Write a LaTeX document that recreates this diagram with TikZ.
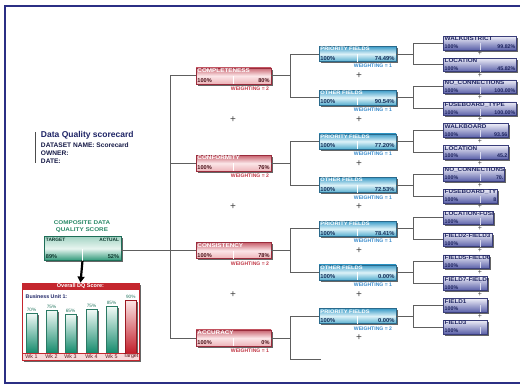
\documentclass[tikz,border=0pt]{standalone}
\usepackage{fontspec}
\setmainfont{Liberation Sans}
\newfontfamily\wide[FakeStretch=1.15]{Liberation Sans}
\usetikzlibrary{shadows,arrows.meta}
\definecolor{navy}{HTML}{2B2F84}
\definecolor{titlec}{HTML}{1F2566}
\definecolor{connc}{HTML}{5E5E5E}
\definecolor{Lonetop}{HTML}{C8626E}
\definecolor{Lonemid}{HTML}{FBE6E8}
\definecolor{Lonebot}{HTML}{EDB4B9}
\definecolor{Loneline}{HTML}{9A2C3C}
\definecolor{Loneval}{HTML}{4A1018}
\definecolor{Lonew}{HTML}{C23A48}
\definecolor{Ltwotop}{HTML}{3C9CC8}
\definecolor{Ltwomid}{HTML}{DDF2F8}
\definecolor{Ltwobot}{HTML}{56AECF}
\definecolor{Ltwoline}{HTML}{2A6A8C}
\definecolor{Ltwoval}{HTML}{14305A}
\definecolor{Ltwow}{HTML}{3A8CCC}
\definecolor{Lthrtop}{HTML}{EEEEF8}
\definecolor{Lthrbot}{HTML}{5C62AA}
\definecolor{Lthrline}{HTML}{3A3E7A}
\definecolor{Lthrtext}{HTML}{1E2460}
\definecolor{Lthrdiv}{HTML}{D8DAF0}
\definecolor{Ctop}{HTML}{A5D5C5}
\definecolor{Cmid}{HTML}{E8F5F0}
\definecolor{Cbot}{HTML}{2E9878}
\definecolor{Cline}{HTML}{1E6E58}
\definecolor{Ctext}{HTML}{2A8A68}
\definecolor{Cdark}{HTML}{0F3A30}
\definecolor{chartred}{HTML}{C4262E}
\definecolor{bartop}{HTML}{F4FBF8}
\definecolor{barbot}{HTML}{148A6C}
\definecolor{barline}{HTML}{2A7A64}
\definecolor{redtop}{HTML}{FBE6E6}
\definecolor{redbot}{HTML}{C21E2A}
\definecolor{wkband}{HTML}{F7DADA}
\definecolor{wktext}{HTML}{5A1015}
\tikzset{
  shad/.style={drop shadow={shadow xshift=1.8pt,shadow yshift=-1.8pt,fill=black!60,opacity=1}},
  conn/.style={draw=connc, line width=0.8pt},
  lonebox/.style={shad, draw=Loneline, line width=0.5pt, top color=Lonetop, bottom color=Lonebot, middle color=Lonemid, minimum width=75pt, minimum height=16pt, inner sep=0pt},
  ltwobox/.style={shad, draw=Ltwoline, line width=0.5pt, top color=Ltwotop, bottom color=Ltwobot, middle color=Ltwomid, minimum width=77pt, minimum height=15pt, inner sep=0pt},
  lthrbox/.style={shad, draw=Lthrline, line width=0.4pt, top color=Lthrtop, bottom color=Lthrbot, minimum height=13.5pt, inner sep=0pt},
  compbox/.style={shad, draw=Cline, line width=0.5pt, top color=Ctop, bottom color=Cbot, middle color=Cmid, minimum width=77pt, minimum height=24pt, inner sep=0pt},
  hdr/.style={inner sep=0pt, font=\wide\bfseries\fontsize{5.5}{6}\selectfont},
  hdrtwo/.style={inner sep=0pt, font=\wide\bfseries\fontsize{5}{6}\selectfont},
  val/.style={inner sep=0pt, font=\bfseries\fontsize{5.6}{6}\selectfont},
  valtwo/.style={inner sep=0pt, text=Ltwoval, font=\bfseries\fontsize{5.8}{6}\selectfont},
  valthr/.style={inner sep=0pt, text=Lthrtext, font=\bfseries\fontsize{5.3}{6}\selectfont},
  wt/.style={inner sep=0pt, font=\bfseries\fontsize{5.1}{6}\selectfont},
  plusa/.style={inner sep=0pt, text=black!75, font=\fontsize{10}{10}\selectfont},
  plusb/.style={inner sep=0pt, text=black!75, font=\fontsize{7}{7}\selectfont},
  bar/.style={shad, draw=barline, line width=0.4pt, top color=bartop, bottom color=barbot},
  redbar/.style={shad, draw=redbot!80!black, line width=0.4pt, top color=redtop, bottom color=redbot},
  pct/.style={inner sep=0pt, text=barline, font=\fontsize{4.7}{5}\selectfont},
  wk/.style={inner sep=0pt, text=wktext, font=\fontsize{5.3}{6}\selectfont},
}
\newcommand\mkLone[5]{%
  \node[lonebox] (#1) at (233.5,#2) {};
  \draw[white,line width=0.6pt] (#1.center) -- (#1.south);
  \node[hdr,text=white,anchor=north west] (#1-h) at ([xshift=1.5pt,yshift=-1pt]#1.north west) {#3};
  \node[val,text=Loneval,anchor=south west] (#1-a) at ([xshift=1.5pt,yshift=1.2pt]#1.south west) {100\%};
  \node[val,text=Loneval,anchor=south east] (#1-b) at ([xshift=-1.5pt,yshift=1.2pt]#1.south east) {#4};
  \node[wt,text=Lonew,anchor=north east] (#1-w) at ([xshift=-2pt,yshift=-2.5pt]#1.south east) {WEIGHTING = #5};
}
\newcommand\mkLtwo[5]{%
  \node[ltwobox] (#1) at (357.5,#2) {};
  \draw[white,line width=0.6pt] (#1.center) -- (#1.south);
  \node[hdrtwo,text=white,anchor=north west] (#1-h) at ([xshift=1.5pt,yshift=-1pt]#1.north west) {#3};
  \node[valtwo,anchor=south west] (#1-a) at ([xshift=1.5pt,yshift=1.2pt]#1.south west) {100\%};
  \node[valtwo,anchor=south east] (#1-b) at ([xshift=-1.5pt,yshift=1.2pt]#1.south east) {#4};
  \node[wt,text=Ltwow,anchor=north east] (#1-w) at ([xshift=-4pt,yshift=-2.5pt]#1.south east) {WEIGHTING = #5};
}
\newcommand\mkLthree[5]{%
  \pgfmathsetmacro\boxwid{#3-443}%
  \node[lthrbox, minimum width=\boxwid pt, anchor=west] (#1) at (443,#2) {};
  \begin{scope}
    \clip (#1.south west) rectangle (#1.north east);
    \draw[Lthrdiv, line width=0.5pt] (#1.center -| dx) -- (#1.south -| dx);
    \node[hdr,text=Lthrtext,anchor=north west] (#1-h) at ([xshift=1.5pt,yshift=-0.8pt]#1.north west) {#4};
    \node[valthr,anchor=south west] (#1-a) at ([xshift=1.5pt,yshift=1pt]#1.south west) {100\%};
    \if\relax\detokenize{#5}\relax\else
    \node[valthr,anchor=south east] (#1-b) at ([xshift=-0.8pt,yshift=1pt]#1.south east) {#5};
    \fi
  \end{scope}
}
\begin{document}
\begin{tikzpicture}[x=1pt,y=-1pt]
\useasboundingbox (0,0) rectangle (520,386);
\fill[white] (0,0) rectangle (520,386);
% frame
\draw[navy, line width=2pt] (520,6) -- (5,6) -- (5,383) -- (520,383);
% helper x positions
\coordinate (tx) at (170,0);
\coordinate (bx) at (290,0);
\coordinate (cx) at (413,0);
\coordinate (dx) at (480,0);
% title block
\draw[black!70, line width=0.6pt] (35,132) -- (35,163);
\node[anchor=base west, inner sep=0pt, text=titlec, font=\bfseries\fontsize{8.5}{9}\selectfont] (title) at (40.8,137.5) {Data Quality scorecard};
\node[anchor=base west, inner sep=0pt, text=titlec!70!black, font=\bfseries\fontsize{6.6}{7}\selectfont] (dsname) at (40.8,147) {DATASET NAME: Scorecard};
\node[anchor=base west, inner sep=0pt, text=titlec!70!black, font=\bfseries\fontsize{6.6}{7}\selectfont] (owner) at (40.8,155.3) {OWNER:};
\node[anchor=base west, inner sep=0pt, text=titlec!70!black, font=\bfseries\fontsize{6.6}{7}\selectfont] (date) at (40.8,163.3) {DATE:};
% composite score
\node[anchor=north, inner sep=0pt, align=center, text=Ctext, font=\wide\bfseries\fontsize{5.5}{7}\selectfont] (comptitle) at (82,220.8) {COMPOSITE DATA\\QUALITY SCORE};
\node[compbox] (comp) at (82.5,248.5) {};
\draw[white,line width=0.7pt] (comp.center) -- (comp.south);
\node[val,text=Cdark,anchor=north west,font=\bfseries\fontsize{4.8}{6}\selectfont] (ctarget) at ([xshift=2pt,yshift=-2pt]comp.north west) {TARGET};
\node[val,text=Cdark,anchor=north east,font=\bfseries\fontsize{4.8}{6}\selectfont] (cactual) at ([xshift=-2pt,yshift=-2pt]comp.north east) {ACTUAL};
\node[val,text=Cdark,anchor=south west] (ct) at ([xshift=2pt,yshift=1.5pt]comp.south west) {89\%};
\node[val,text=Cdark,anchor=south east] (ca) at ([xshift=-2pt,yshift=1.5pt]comp.south east) {52\%};
% chart
\node[shad, draw=chartred, line width=0.8pt, fill=white, minimum width=117pt, minimum height=77pt, inner sep=0pt] (chart) at (80.5,321.5) {};
\node[anchor=north, fill=chartred, text=white, minimum width=117pt, minimum height=7pt, inner sep=0pt, font=\bfseries\fontsize{5.5}{6}\selectfont] (chead) at (chart.north) {Overall DQ Score:};
\node[anchor=base west, inner sep=0pt, text=titlec, font=\bfseries\fontsize{5.3}{6}\selectfont] (bu) at (25.5,298.5) {Business Unit 1:};
\foreach \x/\t/\p in {26/313/70,46/310/75,65/314/65,86/309/75,106/306/85}{
  \draw[bar] (\x,\t) rectangle (\x+11,353);
  \node[pct,anchor=south] (pc\x) at (\x+5.5,\t-0.8) {\p\%};
}
\draw[redbar] (125,300) rectangle (136.5,353);
\node[pct,anchor=south] (pctarget) at (130.75,299.2) {90\%};
\fill[wkband] (22.5,353) rectangle (138.5,359.5);
\draw[chartred, line width=0.5pt] (22.5,353) -- (138.5,353);
\node[wk] (wk1) at (31.5,356.4) {Wk 1};
\node[wk] (wk2) at (51.5,356.4) {Wk 2};
\node[wk] (wk3) at (70.5,356.4) {Wk 3};
\node[wk] (wk4) at (91.5,356.4) {Wk 4};
\node[wk] (wk5) at (111.5,356.4) {Wk 5};
\node[wk] (wk6) at (131,356.4) {Target};
\draw[line width=2.2pt, -{Triangle[length=6pt,width=7pt]}] (comp.south) -- (chead.north);
% level 1
\mkLone{o1}{75.78}{COMPLETENESS}{80\%}{2}
\mkLone{o2}{163.18}{CONFORMITY}{76\%}{2}
\mkLone{o3}{250.58}{CONSISTENCY}{78\%}{2}
\mkLone{o4}{337.98}{ACCURACY}{0\%}{1}
% level 2
\mkLtwo{t0}{53.93}{PRIORITY FIELDS}{74.49\%}{1}
\mkLtwo{t1}{97.63}{OTHER FIELDS}{90.54\%}{1}
\mkLtwo{t2}{141.33}{PRIORITY FIELDS}{77.20\%}{1}
\mkLtwo{t3}{185.03}{OTHER FIELDS}{72.53\%}{1}
\mkLtwo{t4}{228.73}{PRIORITY FIELDS}{78.41\%}{1}
\mkLtwo{t5}{272.43}{OTHER FIELDS}{0.00\%}{1}
\mkLtwo{t6}{316.13}{PRIORITY FIELDS}{0.00\%}{2}
\coordinate (e7) at (321,359.83);
% level 3
\mkLthree{h0}{43.00}{516}{WALKDISTRICT}{99.82\%}
\mkLthree{h1}{64.85}{516}{LOCATION}{45.82\%}
\mkLthree{h2}{86.70}{516}{NO\_CONNECTIONS}{100.00\%}
\mkLthree{h3}{108.55}{516}{FUSEBOARD\_TYPE}{100.00\%}
\mkLthree{h4}{130.40}{508}{WALKBOARD}{93.56}
\mkLthree{h5}{152.25}{508}{LOCATION}{45.2}
\mkLthree{h6}{174.10}{504}{NO\_CONNECTIONS}{70.}
\mkLthree{h7}{195.95}{497}{FUSEBOARD\_TY}{8}
\mkLthree{h8}{217.80}{493}{LOCATION-FUSI}{}
\mkLthree{h9}{239.65}{492}{FIELD2-FIELD3}{}
\mkLthree{h10}{261.50}{489}{FIELD5-FIELD6}{}
\mkLthree{h11}{283.35}{487}{FIELD7-FIELD8}{}
\mkLthree{h12}{305.20}{487}{FIELD1}{}
\mkLthree{h13}{327.05}{487}{FIELD3}{}
% trunk
\draw[conn] (o1.west -| tx) -- (o4.west -| tx);
\foreach \n in {o1,o2,o3,o4} \draw[conn] (\n.west -| tx) -- (\n.west);
\draw[conn] (comp.east |- o3.west) -- (o3.west -| tx);
% level 1 -> level 2
\foreach \p/\a/\b in {o1/t0/t1,o2/t2/t3,o3/t4/t5}{
  \draw[conn] (\p.east) -- (\p.east -| bx);
  \draw[conn] (\a.west) -- (\a.west -| bx) -- (\b.west -| bx) -- (\b.west);
}
\draw[conn] (o4.east) -- (o4.east -| bx);
\draw[conn] (t6.west) -- (t6.west -| bx) -- (e7 -| bx) -- (e7);
% level 2 -> level 3
\foreach \p/\a/\b in {t0/h0/h1,t1/h2/h3,t2/h4/h5,t3/h6/h7,t4/h8/h9,t5/h10/h11,t6/h12/h13}{
  \draw[conn] (\p.east) -- (\p.east -| cx);
  \draw[conn] (\a.west) -- (\a.west -| cx) -- (\b.west -| cx) -- (\b.west);
}
% plus signs
\foreach \y [count=\i] in {119.48,206.88,294.28} \node[plusa] (pa\i) at (233,\y) {+};
\foreach \y [count=\i] in {75.78,119.48,163.18,206.88,250.58,294.28,337.98} \node[plusa] (pb\i) at (359,\y) {+};
\foreach \y [count=\i] in {53.93,75.78,97.63,119.48,141.33,163.18,185.03,206.88,228.73,250.58,272.43,294.28,316.13} \node[plusb] (pc\i) at (480,\y) {+};
\end{tikzpicture}
\end{document}
